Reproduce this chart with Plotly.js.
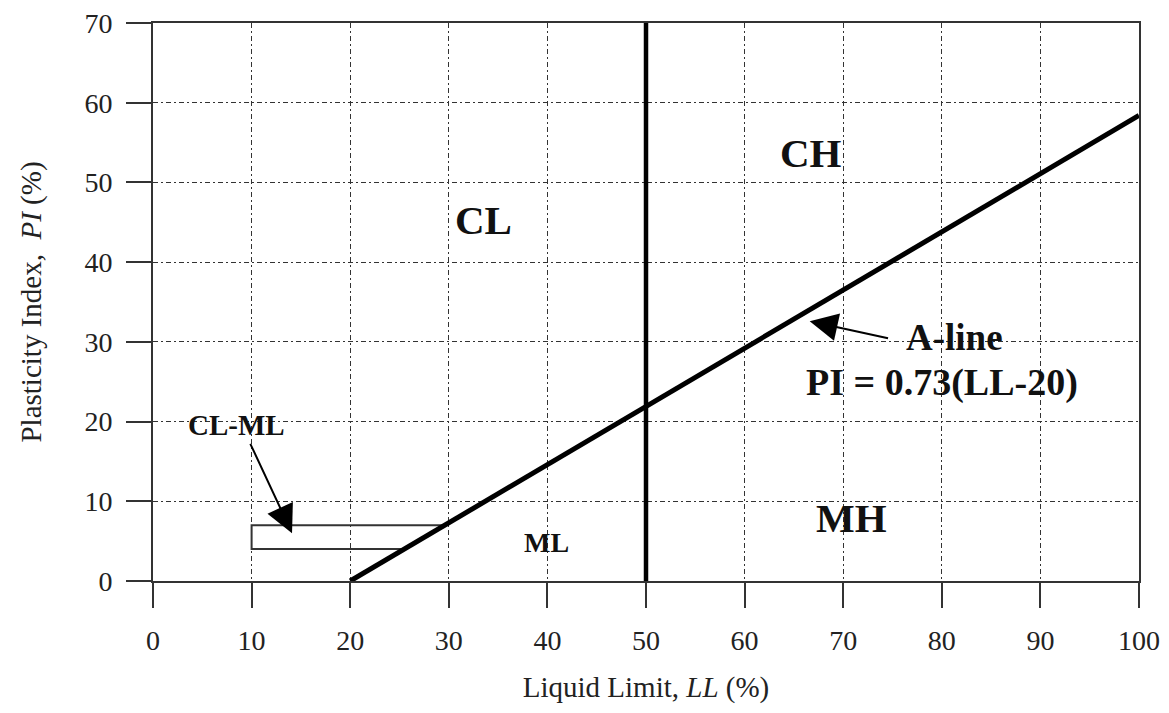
<!DOCTYPE html>
<html>
<head>
<meta charset="utf-8">
<script src="https://cdn.plot.ly/plotly-3.0.1.min.js"></script>
<style>html,body{margin:0;padding:0;background:#fff;}#chart{width:1169px;height:713px;}</style>
</head>
<body>
<div id="chart"></div>
<script>
// A-line
const aLineLL = [20, 100];
const aLinePI = [0, 58.4];
// Vertical boundary at LL = 50
const boundLL = [50, 50];
const boundPI = [0, 70];
// CL-ML zone outline
const clmlLL = [29.6, 10, 10, 25.5];
const clmlPI = [7, 7, 4, 4];
// Tick labels
const xTicks = [0, 10, 20, 30, 40, 50, 60, 70, 80, 90, 100];
const yTicks = [0, 10, 20, 30, 40, 50, 60, 70];
// Zone labels
const zoneNames = ["CL", "CH", "MH"];
const zoneLL = [33.5, 66.7, 70.8];
const zonePI = [45.3, 53.7, 7.9];

const FONT = "Liberation Serif, Times New Roman, serif";

const traces = [
  {x: clmlLL, y: clmlPI, mode: "lines", line: {color: "#333", width: 2}, hoverinfo: "skip"},
  {x: boundLL, y: boundPI, mode: "lines", line: {color: "#000", width: 4.5}, hoverinfo: "skip"},
  {x: aLineLL, y: aLinePI, mode: "lines", line: {color: "#000", width: 5}, hoverinfo: "skip"}
];

const annotations = [];
zoneNames.forEach((n, i) => annotations.push({
  x: zoneLL[i], y: zonePI[i], text: "<b>" + n + "</b>", showarrow: false,
  font: {family: FONT, size: 41, color: "#111"}
}));
annotations.push({x: 39.9, y: 4.8, text: "<b>ML</b>", showarrow: false,
  font: {family: FONT, size: 28, color: "#111"}});
annotations.push({x: 8.5, y: 19.6, text: "<b>CL-ML</b>", showarrow: false,
  font: {family: FONT, size: 29, color: "#111"}});
annotations.push({x: 14.1, y: 6.0, ax: 9.8, ay: 17.4, axref: "x", ayref: "y",
  text: "", showarrow: true, arrowhead: 2, arrowsize: 2.8, arrowwidth: 2, arrowcolor: "#000"});
annotations.push({x: 66.6, y: 32.6, ax: 74.7, ay: 30.4, axref: "x", ayref: "y",
  text: "", showarrow: true, arrowhead: 2, arrowsize: 2.8, arrowwidth: 2, arrowcolor: "#000"});
annotations.push({x: 81.3, y: 27.9, yanchor: "bottom", borderpad: 0, text: "<b>A-line</b>", showarrow: false,
  font: {family: FONT, size: 37, color: "#111"}});
annotations.push({x: 80.0, y: 27.7, yanchor: "top", borderpad: 0, text: "<b>PI = 0.73(LL-20)</b>", showarrow: false,
  font: {family: FONT, size: 38, color: "#111"}});

const axisCommon = {
  showline: true, linecolor: "#333", linewidth: 2, mirror: true,
  ticks: "outside", ticklen: 25, tickwidth: 2, tickcolor: "#333",
  showgrid: true, gridcolor: "#333", gridwidth: 1, griddash: "5px,3px,2px,3px",
  zeroline: false, tickfont: {family: FONT, size: 28, color: "#222"}
};

const layout = {
  width: 1169, height: 713,
  margin: {l: 153, r: 30, t: 23, b: 132},
  paper_bgcolor: "#fff", plot_bgcolor: "#fff",
  showlegend: false,
  xaxis: Object.assign({}, axisCommon, {
    range: [0, 100], tickvals: xTicks, ticktext: xTicks.map(String),
    ticklabelstandoff: 8,
    title: {text: "Liquid Limit, <i>LL</i> (%)", font: {family: FONT, size: 29, color: "#222"}, standoff: 22}
  }),
  yaxis: Object.assign({}, axisCommon, {
    range: [0, 70], tickvals: yTicks, ticktext: yTicks.map(String),
    ticklabelstandoff: 8,
    title: {text: "Plasticity Index,  <i>PI</i> (%)", font: {family: FONT, size: 29, color: "#222"}, standoff: 34}
  }),
  annotations: annotations
};

Plotly.newPlot("chart", traces, layout, {displayModeBar: false, staticPlot: true});
</script>
</body>
</html>
